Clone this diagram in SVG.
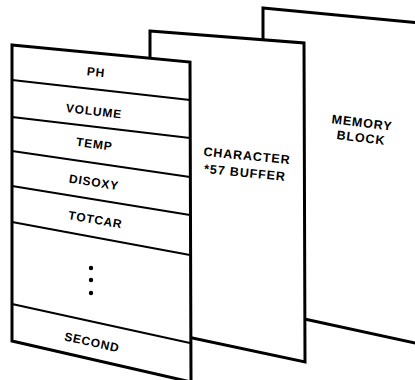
<svg xmlns="http://www.w3.org/2000/svg" width="415" height="380" viewBox="0 0 415 380">
<style>
.panel{fill:#fff;stroke:#000;stroke-width:3;stroke-linejoin:miter}
.div{stroke:#000;stroke-width:1.8;fill:none}
.lbl{font-family:"Liberation Sans",Arial,sans-serif;font-weight:bold;font-size:12px;letter-spacing:0.8px;fill:#000;text-anchor:middle}
.big{font-size:12.5px;letter-spacing:0.9px}
</style>
<rect width="415" height="380" fill="#fff"/>
<g id="memory-block">
<polygon class="panel" points="263,8 420,23 420,344 263,310"/>
<text class="lbl big" x="362" y="127" transform="rotate(7 362 123)">MEMORY</text>
<text class="lbl big" x="361" y="142" transform="rotate(7 361 138)">BLOCK</text>
</g>
<g id="character-buffer">
<polygon class="panel" points="150,31 304,43 305,362 150,329"/>
<text class="lbl big" x="247" y="160" transform="rotate(5.5 247 156)">CHARACTER</text>
<text class="lbl big" x="245" y="177" transform="rotate(5.5 245 173)">*57 BUFFER</text>
</g>
<g id="record-panel">
<polygon class="panel" points="12,45 190,62 191,382 12,341"/>
<g class="connectors">
<line class="div" x1="12" y1="80" x2="190" y2="100"/>
<line class="div" x1="12" y1="117" x2="190" y2="138"/>
<line class="div" x1="12" y1="151" x2="190" y2="177"/>
<line class="div" x1="12" y1="186" x2="190" y2="215"/>
<line class="div" x1="12" y1="222" x2="190" y2="255"/>
<line class="div" x1="12" y1="304" x2="190" y2="343"/>
</g>
<g id="ph"><text class="lbl" x="96" y="76.3" transform="rotate(5.9 96 72)">PH</text></g>
<g id="volume"><text class="lbl" x="94" y="115.3" transform="rotate(6.6 94 111)">VOLUME</text></g>
<g id="temp"><text class="lbl" x="94.5" y="148.3" transform="rotate(7.5 94.5 144)">TEMP</text></g>
<g id="disoxy"><text class="lbl" x="94" y="186.3" transform="rotate(8.8 94 182)">DISOXY</text></g>
<g id="totcar"><text class="lbl" x="95.5" y="223.8" transform="rotate(9.9 95.5 219.5)">TOTCAR</text></g>
<g id="ellipsis">
<circle cx="91" cy="268" r="2.2"/>
<circle cx="91" cy="280" r="2.2"/>
<circle cx="91" cy="293" r="2.2"/>
</g>
<g id="second"><text class="lbl" x="92" y="346.3" transform="rotate(12.4 92 342)">SECOND</text></g>
</g>
</svg>
